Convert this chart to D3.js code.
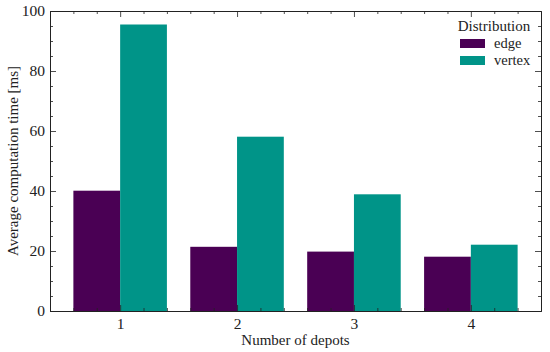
<!DOCTYPE html>
<html>
<head>
<meta charset="utf-8">
<script src="https://cdn.jsdelivr.net/npm/d3@7"></script>
<style>
  body { margin: 0; background: #fff; }
</style>
</head>
<body>
<div id="main"></div>
<script>
var depots = [1, 2, 3, 4];
var series = ["edge", "vertex"];
var edge_values = [40.1, 21.4, 19.8, 18.1];
var vertex_values = [95.5, 58.1, 38.9, 22.1];
var y_ticks = [0, 20, 40, 60, 80, 100];
var colors = ["#4a0054", "#009488"];
var font = "'Liberation Serif', 'DejaVu Serif', serif";

var width = 550, height = 352;
var margin = {left: 50, right: 9, top: 11, bottom: 41};

var svg = d3.select("#main").append("svg")
    .attr("width", width)
    .attr("height", height)
    .attr("font-family", font);

var x = d3.scaleLinear().domain([0.4, 4.6]).range([margin.left, width - margin.right]);
var y = d3.scaleLinear().domain([0, 100]).range([height - margin.bottom, margin.top]);
var bar_w = 0.4;

var values = [edge_values, vertex_values];

// bars
series.forEach(function(s, si) {
    svg.append("g").selectAll("rect")
        .data(values[si])
        .enter()
        .append("rect")
        .attr("x", function(d, i) { return x(depots[i] - bar_w + si * bar_w); })
        .attr("width", function() { return x(bar_w) - x(0); })
        .attr("y", function(d) { return y(d); })
        .attr("height", function(d) { return y(0) - y(d); })
        .style("fill", colors[si]);
});

// axes, ticks pointing inward on all four sides
var x_minor = d3.range(0.6, 4.6, 0.2).filter(function(t) { return Math.abs(t - Math.round(t)) > 0.01; });
var y_minor = d3.range(5, 100, 5).filter(function(t) { return t % 20 != 0; });

function axis(gen, translate, major, minor, labels, pad) {
    var g = svg.append("g").attr("transform", translate);
    g.call(gen.tickValues(major).tickSize(-6).tickPadding(pad).tickFormat(labels ? d3.format("d") : ""));
    g.append("g").call(gen.tickValues(minor).tickSize(-3).tickFormat(""))
        .select(".domain").remove();
    g.attr("font-family", font);
    g.selectAll("g").attr("font-family", font);
    g.selectAll("line").attr("stroke", "#222").attr("stroke-width", 0.8);
    g.select(".domain").attr("stroke", "#222").attr("stroke-width", 1);
    g.selectAll("text")
        .style("font-family", font)
        .style("font-size", "15.5px")
        .style("fill", "#222");
    return g;
}

axis(d3.axisBottom(x), "translate(0," + y(0) + ")", depots, x_minor, true, 7);
axis(d3.axisTop(x), "translate(0," + y(100) + ")", depots, x_minor, false, 7);
axis(d3.axisLeft(y), "translate(" + x(0.4) + ",0)", y_ticks, y_minor, true, 5);
axis(d3.axisRight(y), "translate(" + x(4.6) + ",0)", y_ticks, y_minor, false, 5);

svg.selectAll(".domain").attr("fill", "none");

// axis labels
svg.append("text")
    .attr("x", (x(0.4) + x(4.6)) / 2)
    .attr("y", 345)
    .attr("text-anchor", "middle")
    .style("font-family", font)
    .style("font-size", "15px")
    .style("fill", "#222")
    .text("Number of depots");

svg.append("text")
    .attr("transform", "translate(18," + (y(50)) + ") rotate(-90)")
    .attr("text-anchor", "middle")
    .style("font-family", font)
    .style("font-size", "15px")
    .style("fill", "#222")
    .text("Average computation time [ms]");

// legend
var legend = svg.append("g");
legend.append("text")
    .attr("x", 494)
    .attr("y", 31)
    .attr("text-anchor", "middle")
    .style("font-family", font)
    .style("font-size", "15px")
    .style("fill", "#222")
    .text("Distribution");
series.forEach(function(s, si) {
    legend.append("rect")
        .attr("x", 460)
        .attr("y", 39 + si * 17)
        .attr("width", 25)
        .attr("height", 9)
        .style("fill", colors[si]);
    legend.append("text")
        .attr("x", 494)
        .attr("y", 47.5 + si * 17)
        .style("font-family", font)
        .style("font-size", "14.5px")
        .style("fill", "#222")
        .text(s);
});
</script>
</body>
</html>
